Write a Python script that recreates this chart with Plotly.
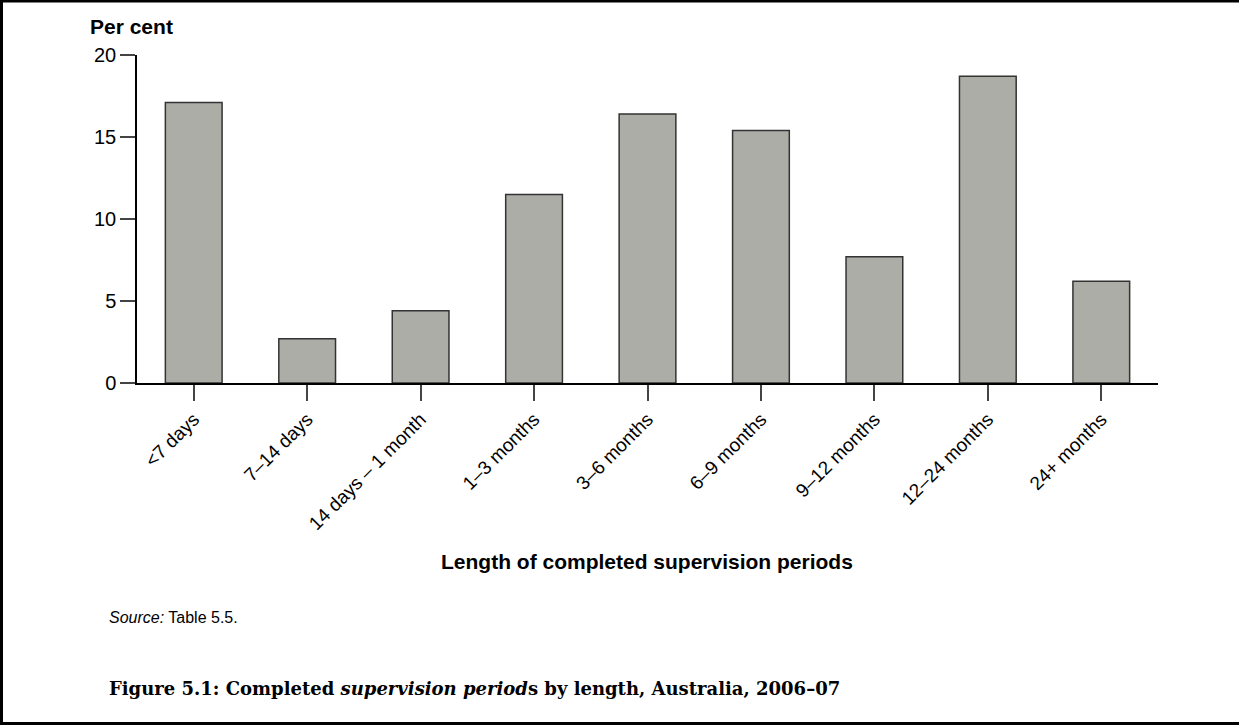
import plotly.graph_objects as go

categories = ["<7 days", "7–14 days", "14 days – 1 month", "1–3 months", "3–6 months",
              "6–9 months", "9–12 months", "12–24 months", "24+ months"]
per_cent = [17.1, 2.7, 4.4, 11.5, 16.4, 15.4, 7.7, 18.7, 6.2]
y_ticks = [0, 5, 10, 15, 20]

W, H = 1239, 725
L, R, T, B = 137, 1158, 55, 383  # plot area in pixels


def px(x):
    return (x - L) / (R - L)


def py(y):
    return (B - y) / (B - T)


fig = go.Figure(go.Bar(
    x=categories, y=per_cent,
    marker=dict(color="#adada7", line=dict(color="#333333", width=1.5)),
    width=0.5,
))

font = "Liberation Sans, Arial, sans-serif"
fig.update_layout(
    width=W, height=H,
    margin=dict(l=L, r=W - R, t=T, b=H - B),
    paper_bgcolor="white", plot_bgcolor="white",
    showlegend=False,
    font=dict(family=font, color="black"),
    bargap=0.5,
    xaxis=dict(
        range=[-0.5, 8.5], showline=True, linecolor="black", linewidth=1.5,
        ticks="outside", ticklen=16, tickcolor="#444444", tickwidth=1.5,
        tickangle=-45, tickfont=dict(size=19, family=font, color="black"),
        showgrid=False, zeroline=False,
    ),
    yaxis=dict(
        range=[0, 20], tickvals=y_ticks, showline=True, linecolor="black", linewidth=1.5,
        ticks="outside", ticklen=15, tickcolor="#444444", tickwidth=1.5,
        tickfont=dict(size=20, family=font, color="black"),
        showgrid=False, zeroline=False,
    ),
    annotations=[
        dict(text="<b>Per cent</b>", xref="paper", yref="paper", x=px(88), y=py(27),
             xanchor="left", yanchor="middle", showarrow=False,
             font=dict(size=21, family=font, color="black")),
        dict(text="<b>Length of completed supervision periods</b>", xref="paper", yref="paper",
             x=px(647), y=py(561), xanchor="center", yanchor="middle", showarrow=False,
             font=dict(size=21, family=font, color="black")),
        dict(text="<i>Source:</i> Table 5.5.", xref="paper", yref="paper",
             x=px(107), y=py(617), xanchor="left", yanchor="middle", showarrow=False,
             font=dict(size=16, family=font, color="black")),
        dict(text="<b>Figure 5.1: Completed <i>supervision period</i>s by length, Australia, 2006–07</b>",
             xref="paper", yref="paper", x=px(107), y=py(688), xanchor="left", yanchor="middle",
             showarrow=False,
             font=dict(size=18, family="DejaVu Serif, Liberation Serif, serif", color="black")),
    ],
    shapes=[
        dict(type="line", xref="paper", yref="paper", x0=px(0), x1=px(W), y0=py(1), y1=py(1),
             line=dict(color="black", width=3)),
        dict(type="line", xref="paper", yref="paper", x0=px(1.5), x1=px(1.5), y0=py(0), y1=py(H),
             line=dict(color="black", width=3)),
        dict(type="line", xref="paper", yref="paper", x0=px(0), x1=px(W), y0=py(723.5), y1=py(723.5),
             line=dict(color="black", width=3)),
    ],
)

fig.write_html(
    "out.html",
    config={"displayModeBar": False},
    post_script="document.body.style.margin='0';document.body.style.overflow='hidden';",
)
